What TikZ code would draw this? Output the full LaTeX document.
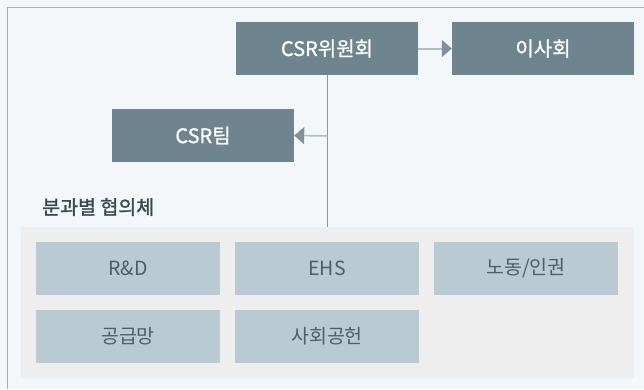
\documentclass[tikz,border=0pt]{standalone}
\usepackage{fontspec}
\setmainfont{Noto Sans CJK KR}
\usepackage{xcolor}
\usetikzlibrary{arrows.meta,positioning}

\definecolor{pagebg}{HTML}{F4F7F9}
\definecolor{framecol}{HTML}{A3AFB6}
\definecolor{headbox}{HTML}{6E848E}
\definecolor{subbox}{HTML}{B9CAD3}
\definecolor{panelcol}{HTML}{EEEEEE}
\definecolor{subtext}{HTML}{4B5F69}
\definecolor{labeltext}{HTML}{3A474E}
\definecolor{linkcol}{HTML}{AEBCC4}
\definecolor{tipcol}{HTML}{7F939D}
\definecolor{stemcol}{HTML}{8A9AA3}

\tikzset{
  headnode/.style = {fill = headbox, text = white, minimum width = 182pt,
    minimum height = 53pt, inner sep = 0pt,
    font = \fontsize{20}{22}\selectfont\addfontfeature{FakeBold=0.9}},
  subnode/.style = {fill = subbox, text = subtext, minimum width = 184pt,
    minimum height = 53pt, inner sep = 0pt, font = \fontsize{19.5}{21}\selectfont},
  link/.style = {draw = linkcol, line width = 2pt,
    -{Triangle[length = 10pt, width = 17pt, color = tipcol]}}
}

\begin{document}
\begin{tikzpicture}[x = 1pt, y = -1pt]
\useasboundingbox (0,0) rectangle (644,389);
\fill[pagebg] (0,0) rectangle (644,389);
\draw[framecol] (7,389) -- (7,7) -- (644,7);

% top level
\node[headnode] (wiwon) at (327,48.5) {CSR위원회};
\node[headnode] (isa) at (543,48.5) {이사회};
\node[headnode] (team) at (203,135.5) {CSR팀};

% panel of sub-committees
\fill[panelcol] (21,227) rectangle (634,378);
\node[anchor = west, text = labeltext, inner sep = 0pt,
  font = \fontsize{19.5}{21}\selectfont\addfontfeature{FakeBold=1.4}] (bungwa) at (42,207) {분과별 협의체};

\node[subnode] (rnd) at (128,268.5) {R\&D};
\node[subnode] (ehs) at (327,268.5) {EHS};
\node[subnode] (nodong) at (526,268.5) {노동/인권};
\node[subnode] (gonggeup) at (128,336.5) {공급망};
\node[subnode] (sahoe) at (327,336.5) {사회공헌};

% connectors
\coordinate (stemend) at (327,227);
\coordinate (stemmid) at (327,136);
\draw[stemcol, line width = 1pt] (wiwon.south) -- (stemend);
\draw[link] (wiwon.east) -- (isa.west);
\draw[link, line width = 1.5pt] (stemmid) -- (team.east);
\end{tikzpicture}
\end{document}
